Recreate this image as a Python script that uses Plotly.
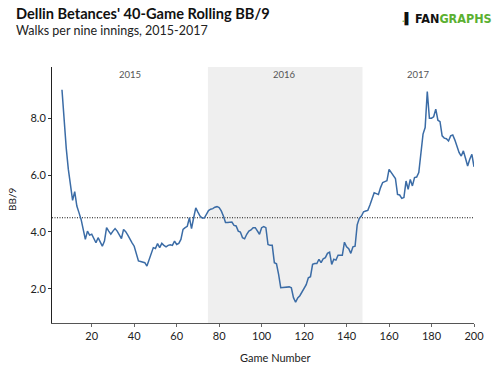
import plotly.graph_objects as go

games = list(range(6, 201))
bb9 = [
    9.00, 7.85, 6.95, 6.20, 5.65, 5.11, 5.42, 4.91, 4.68, 4.44,   # 6-15
    4.09, 3.74, 4.03, 3.89, 3.92, 3.77, 3.62, 3.80, 3.62, 3.50,   # 16-25
    3.68, 4.15, 4.03, 3.92, 4.03, 4.12, 4.03, 3.92, 3.77, 4.09,   # 26-35
    4.01, 3.89, 3.74, 3.62, 3.50, 3.27, 2.98, 2.96, 2.95, 2.92,   # 36-45
    2.80, 3.04, 3.20, 3.45, 3.42, 3.59, 3.45, 3.60, 3.53, 3.48,   # 46-55
    3.53, 3.55, 3.53, 3.68, 3.56, 3.60, 3.74, 4.09, 4.15, 4.20,   # 56-65
    4.50, 4.12, 4.50, 4.85, 4.70, 4.56, 4.49, 4.49, 4.62, 4.75,   # 66-75
    4.80, 4.82, 4.87, 4.89, 4.86, 4.74, 4.56, 4.33, 4.33, 4.33,   # 76-85
    4.35, 4.23, 4.21, 4.03, 4.00, 3.80, 3.76, 3.92, 4.03, 4.07,   # 86-95
    4.15, 4.15, 4.03, 3.92, 4.15, 4.19, 4.15, 3.56, 3.53, 3.53,   # 96-105
    2.92, 2.88, 2.51, 2.04, 2.05, 2.05, 2.05, 2.07, 2.04, 1.69,   # 106-115
    1.53, 1.68, 1.76, 1.90, 2.04, 2.15, 2.39, 2.43, 2.86, 2.89,   # 116-125
    2.89, 3.04, 2.92, 3.06, 3.10, 3.25, 3.29, 2.86, 3.04, 3.01,   # 126-135
    3.18, 3.18, 3.18, 3.64, 3.48, 3.41, 3.25, 3.48, 3.50, 4.25,   # 136-145
    4.48, 4.56, 4.71, 4.74, 4.76, 4.95, 5.15, 5.38, 5.35, 5.32,   # 146-155
    5.56, 5.74, 5.77, 5.80, 6.20, 6.09, 5.97, 5.88, 5.32, 5.30,   # 156-165
    5.18, 5.21, 5.79, 5.50, 5.85, 5.62, 5.91, 5.93, 6.09, 6.85,   # 166-175
    7.44, 7.67, 8.94, 8.00, 8.00, 8.05, 8.32, 7.93, 7.88, 7.38,   # 176-185
    7.30, 7.28, 7.20, 7.38, 7.41, 7.23, 7.03, 6.79, 6.67, 6.85,   # 186-195
    6.59, 6.32, 6.56, 6.73, 6.29,                                  # 196-200
]

league_avg = 4.5
seasons = ["2015", "2016", "2017"]
season_mid = [38, 111, 174]
shade_start, shade_end = 74.7, 147.5
x_ticks = [20, 40, 60, 80, 100, 120, 140, 160, 180, 200]
y_ticks = [2.0, 4.0, 6.0, 8.0]

FONT = "Lato, 'Open Sans', sans-serif"
W, H = 500, 366
L, R, T, B = 52, 26, 67, 43
PW, PH = W - L - R, H - T - B

fig = go.Figure()
fig.add_shape(type="rect", xref="x", yref="paper", x0=shade_start, x1=shade_end,
              y0=0, y1=1, fillcolor="#efefef", line=dict(width=0), layer="below")
fig.add_trace(go.Scatter(x=[1.3, 200], y=[league_avg, league_avg], mode="lines",
                         line=dict(color="#111111", width=1.1, dash="1px,1.5px"),
                         hoverinfo="skip", showlegend=False))
fig.add_trace(go.Scatter(x=games, y=bb9, mode="lines",
                         line=dict(color="#3b6ca6", width=1.5),
                         hoverinfo="skip", showlegend=False))

for s, m in zip(seasons, season_mid):
    fig.add_annotation(x=m, y=9.52, xref="x", yref="y", text=s, showarrow=False,
                       font=dict(family=FONT, size=9.5, color="#555555"))

fig.update_layout(
    width=W, height=H,
    margin=dict(l=L, r=R, t=T, b=B, autoexpand=False),
    paper_bgcolor="white", plot_bgcolor="white",
    font=dict(family=FONT, color="#222222"),
    xaxis=dict(range=[1.3, 200], tickvals=x_ticks, ticks="outside", ticklen=3,
               tickcolor="#666666", showline=True, linecolor="#555555", linewidth=1,
               showgrid=False, zeroline=False,
               tickfont=dict(family=FONT, size=11, color="#222222")),
    yaxis=dict(range=[0.8, 9.8], tickvals=y_ticks, tickformat=".1f", ticks="outside",
               ticklen=3, tickcolor="#333333", showline=True, linecolor="#222222",
               linewidth=1, showgrid=False, zeroline=False,
               tickfont=dict(family=FONT, size=11, color="#222222")),
)


def pix_annot(text, px, py, size, color="#111111", xanchor="left", bold=False, angle=0, family=FONT):
    fig.add_annotation(x=(px - L) / PW, y=(H - B - py) / PH, xref="paper", yref="paper",
                       text=f"<b>{text}</b>" if bold else text, showarrow=False,
                       xanchor=xanchor, yanchor="middle", textangle=angle,
                       font=dict(family=family, size=size, color=color))


pix_annot("Dellin Betances' 40-Game Rolling BB/9", 14, 13, 14.6, bold=True)
pix_annot("Walks per nine innings, 2015-2017", 14, 30, 12.5, color="#222222")
pix_annot("BB/9", 12, 200, 10, color="#222222", xanchor="center", angle=-90)
pix_annot("Game Number", 275, 357, 11, color="#222222", xanchor="center")
pix_annot("<b>FAN</b><span style='color:#5bb031'><b>GRAPHS</b></span>", 413, 18, 12.5,
          color="#111111", family="'DejaVu Sans Condensed', 'DejaVu Sans', sans-serif")
pix_annot("<span style='color:#5bb031'>.</span>▌", 400, 18, 11, color="#111111")

fig.write_html("out.html", config={"displayModeBar": False},
               post_script="document.body.style.margin='0';document.body.style.overflow='hidden';")
